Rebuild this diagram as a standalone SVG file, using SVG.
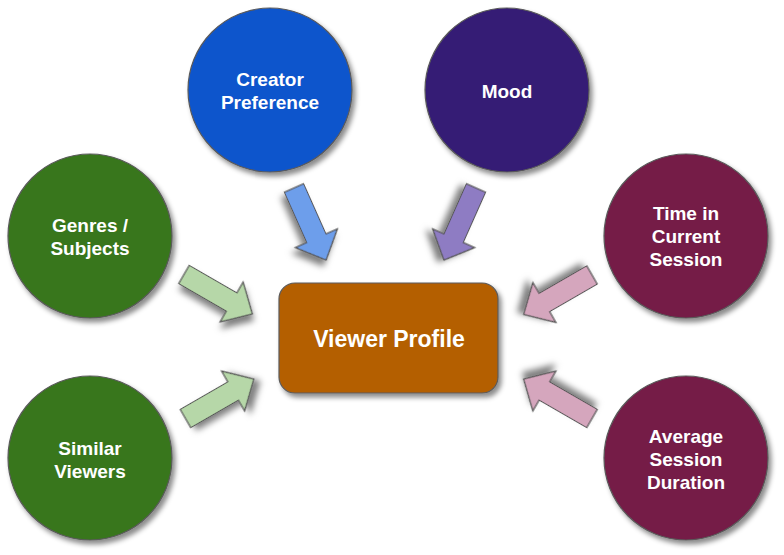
<svg xmlns="http://www.w3.org/2000/svg" width="784" height="555" viewBox="0 0 784 555">
<defs>
<filter id="sh" x="-20%" y="-20%" width="150%" height="150%">
<feDropShadow dx="3" dy="4" stdDeviation="2.5" flood-color="#000" flood-opacity="0.45"/>
</filter>
<filter id="ash" x="-40%" y="-40%" width="200%" height="200%">
<feDropShadow dx="4" dy="5" stdDeviation="3" flood-color="#000" flood-opacity="0.5"/>
</filter>
<path id="arr" d="M0,-10.5 L55,-10.5 L55,-23 L79,0 L55,23 L55,10.5 L0,10.5 Z"/>
</defs>
<style>
.c{stroke:#5a5a5a;stroke-width:1.2;filter:url(#sh)}
.t{font-family:"Liberation Sans",Arial,sans-serif;font-weight:bold;font-size:19px;fill:#fff;text-anchor:middle}
.a{stroke:#555;stroke-width:1.2;stroke-linejoin:miter;filter:url(#ash)}
</style>
<rect width="784" height="555" fill="#fff"/>
<g id="connectors">
<use href="#arr" class="a" fill="#6D9EEB" transform="translate(294,188) rotate(66)"/>
<use href="#arr" class="a" fill="#8E7CC3" transform="translate(476,188) rotate(114)"/>
<use href="#arr" class="a" fill="#B6D7A8" transform="translate(184,274.5) rotate(30)"/>
<use href="#arr" class="a" fill="#B6D7A8" transform="translate(185.5,418.5) rotate(-30)"/>
<use href="#arr" class="a" fill="#D5A6BD" transform="translate(592,275) rotate(150)"/>
<use href="#arr" class="a" fill="#D5A6BD" transform="translate(592,418.5) rotate(-150)"/>
</g>
<g id="creator">
<circle class="c" cx="270" cy="90" r="82" fill="#1155CC"/>
<text class="t" x="270" y="85.5">Creator</text>
<text class="t" x="270" y="108.5">Preference</text>
</g>
<g id="mood">
<circle class="c" cx="507" cy="90" r="82" fill="#351C75"/>
<text class="t" x="507" y="97.5">Mood</text>
</g>
<g id="genres">
<circle class="c" cx="90" cy="236" r="82" fill="#38761D"/>
<text class="t" x="90" y="231.5">Genres /</text>
<text class="t" x="90" y="254.5">Subjects</text>
</g>
<g id="similar">
<circle class="c" cx="90" cy="458" r="82" fill="#38761D"/>
<text class="t" x="90" y="454.5">Similar</text>
<text class="t" x="90" y="477.5">Viewers</text>
</g>
<g id="time">
<circle class="c" cx="686" cy="236" r="82" fill="#741B47"/>
<text class="t" x="686" y="219.5">Time in</text>
<text class="t" x="686" y="242.5">Current</text>
<text class="t" x="686" y="265.5">Session</text>
</g>
<g id="average">
<circle class="c" cx="686" cy="458" r="82" fill="#741B47"/>
<text class="t" x="686" y="442.5">Average</text>
<text class="t" x="686" y="465.5">Session</text>
<text class="t" x="686" y="488.5">Duration</text>
</g>
<g id="viewer">
<rect class="c" x="279" y="283" width="219" height="110" rx="16" fill="#B45F06"/>
<text class="t" x="389" y="347" style="font-size:23px">Viewer Profile</text>
</g>
</svg>
